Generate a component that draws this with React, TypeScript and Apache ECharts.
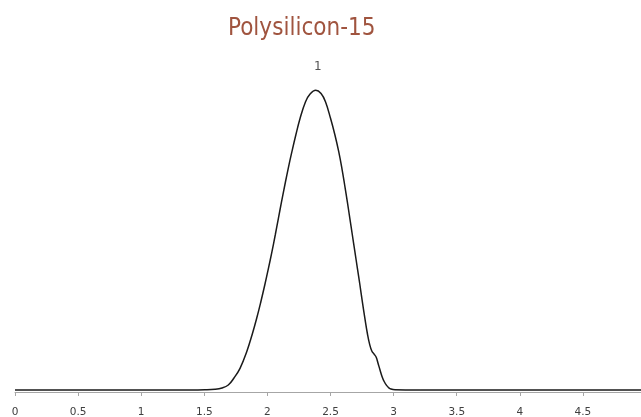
import React, { useEffect, useRef } from "react";
import * as echarts from "echarts";

const xValues = [
  0, 0.5, 1.0, 1.387, 1.505, 1.585, 1.64, 1.69, 1.735, 1.783, 1.836, 1.878, 1.915,
  1.948, 1.979, 2.008, 2.036, 2.062, 2.087, 2.112, 2.138, 2.165, 2.194, 2.225, 2.259,
  2.302, 2.338, 2.383, 2.425, 2.46, 2.5, 2.535, 2.565, 2.59, 2.612, 2.633, 2.653,
  2.673, 2.693, 2.713, 2.733, 2.752, 2.772, 2.792, 2.811, 2.828, 2.846, 2.862, 2.877,
  2.891, 2.908, 2.925, 2.944, 2.962, 2.979, 3.011, 3.209, 4.0, 4.96,
];
const yValues = [
  0.67, 0.67, 0.67, 0.67, 0.73, 0.9, 1.33, 2.33, 4.67, 7.9, 13.43, 19.0, 24.57,
  30.1, 35.67, 41.23, 46.77, 52.33, 57.9, 63.43, 69.0, 74.57, 80.1, 85.67, 91.23,
  96.77, 99.33, 100.57, 99.5, 96.77, 91.23, 85.67, 80.1, 74.57, 69.0, 63.43, 57.9,
  52.33, 46.77, 41.23, 35.67, 30.1, 24.6, 19.5, 15.7, 13.6, 12.6, 11.6, 9.5,
  7.5, 5.2, 3.5, 2.2, 1.4, 1.0, 0.77, 0.67, 0.65, 0.65,
];
const peakIndex = 27;
const peakLabel = "1";
const titleText = "Polysilicon-15";
const xTickLabels = ["0", "0.5", "1", "1.5", "2", "2.5", "3", "3.5", "4", "4.5"];

export default function App() {
  const ref = useRef<HTMLDivElement>(null);
  useEffect(() => {
    if (!ref.current) return;
    const chart = echarts.init(ref.current, null, { renderer: "svg" });
    const data = xValues.map((x, i) => [x, yValues[i]]);
    chart.setOption({
      animation: false,
      title: {
        text: titleText,
        left: 223,
        top: 10,
        textStyle: {
          color: "#a0543f",
          fontSize: 24,
          fontWeight: "normal",
          fontFamily: "DejaVu Sans Condensed, DejaVu Sans",
        },
      },
      grid: { left: 15, right: 0, top: 86, bottom: 25, containLabel: false },
      xAxis: {
        type: "value",
        min: 0,
        max: 4.96,
        interval: 0.5,
        splitLine: { show: false },
        axisLine: { show: true, lineStyle: { color: "#a6a6a6", width: 1 } },
        axisTick: { show: true, length: 4, lineStyle: { color: "#a6a6a6" } },
        axisLabel: {
          margin: 13,
          color: "#404040",
          fontSize: 10.5,
          fontFamily: "DejaVu Sans",
          showMaxLabel: false,
          formatter: (v: number) => {
            const idx = Math.round(v / 0.5);
            if (Math.abs(v - idx * 0.5) > 1e-6) return "";
            return xTickLabels[idx] ?? "";
          },
        },
      },
      yAxis: {
        type: "value",
        min: 0,
        max: 102,
        show: false,
        splitLine: { show: false },
      },
      series: [
        {
          type: "line",
          data,
          smooth: 0.4,
          showSymbol: false,
          symbol: "none",
          lineStyle: { color: "#1a1a1a", width: 1.5 },
        },
        {
          type: "scatter",
          data: [[xValues[peakIndex], yValues[peakIndex]]],
          symbolSize: 0,
          silent: true,
          label: {
            show: true,
            formatter: peakLabel,
            position: "top",
            distance: 18,
            offset: [2, 0],
            color: "#262626",
            fontSize: 12,
            fontFamily: "DejaVu Sans",
          },
        },
      ],
    });
    return () => chart.dispose();
  }, []);
  return (
    <div
      ref={ref}
      style={{ position: "fixed", left: 0, top: 0, width: 641, height: 417 }}
    />
  );
}
